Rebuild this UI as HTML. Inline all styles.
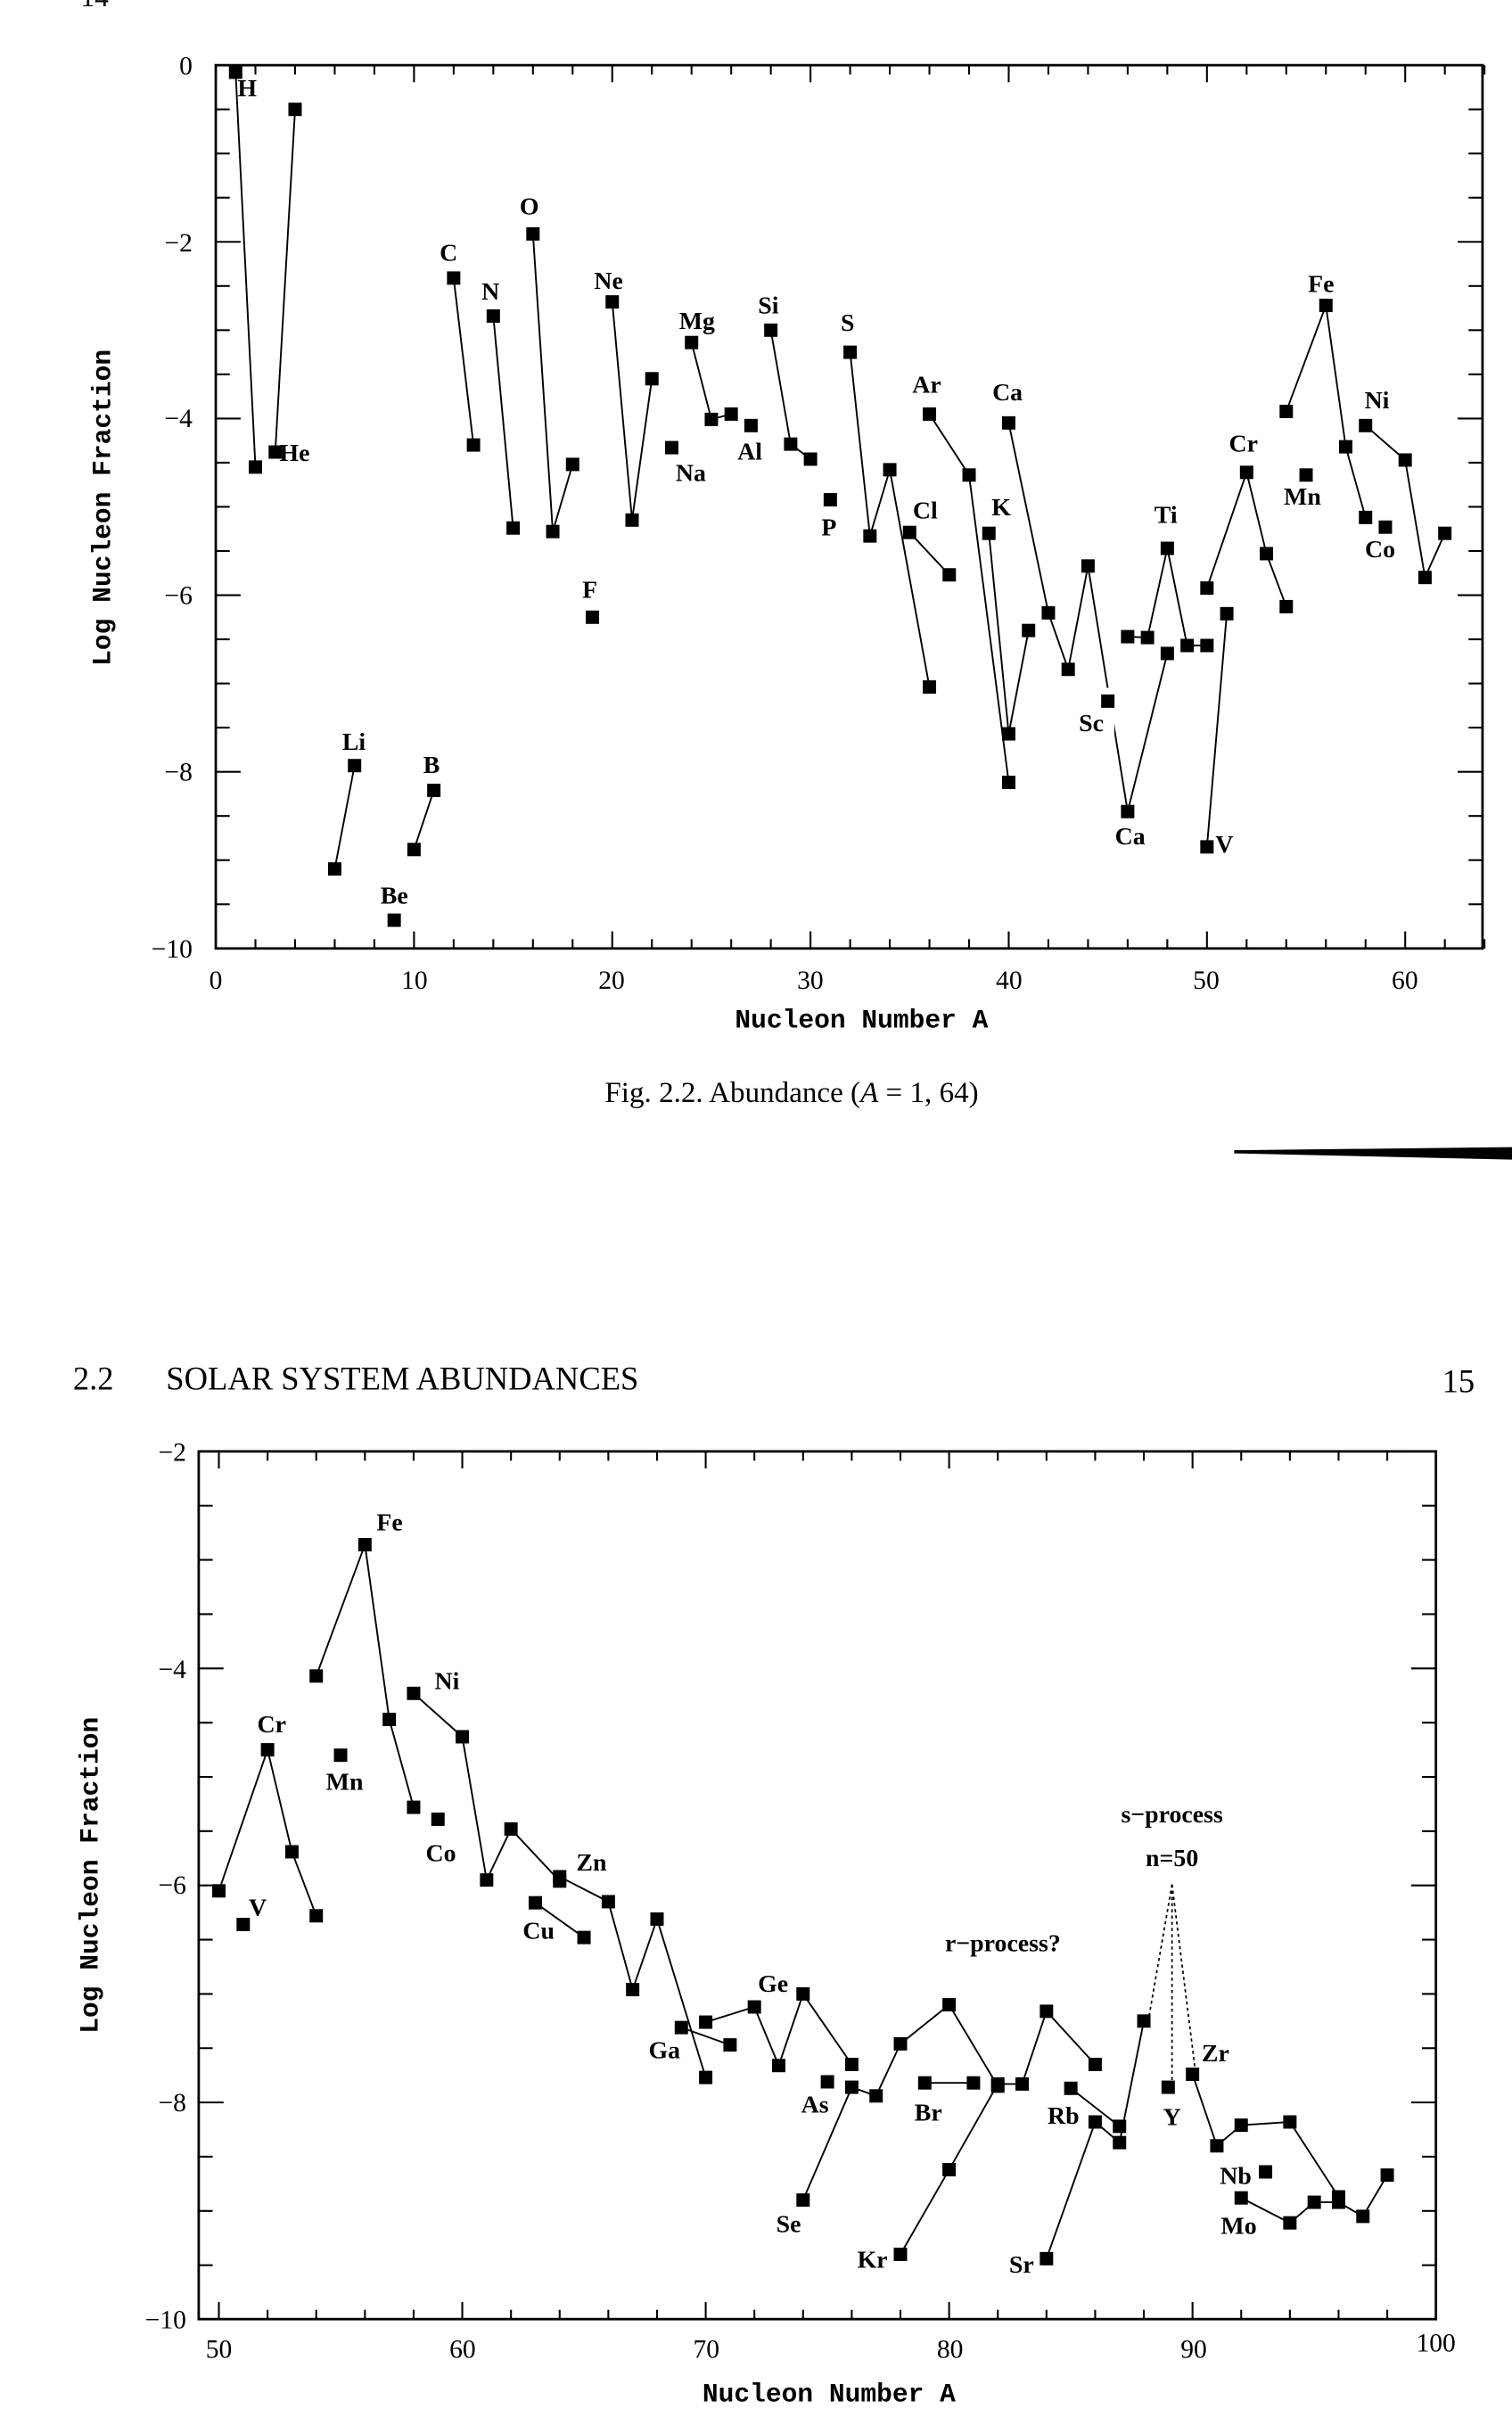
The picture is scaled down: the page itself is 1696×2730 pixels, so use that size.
<!DOCTYPE html>
<html><head><meta charset="utf-8"><style>
html,body{margin:0;padding:0;background:#fff;}
svg{display:block;}
text{font-family:"Liberation Serif",serif;fill:#000;}
.m{font-family:"Liberation Mono",monospace;font-weight:bold;}
</style></head><body>
<svg id="s" width="1696" height="2730" viewBox="0 0 974 1568" preserveAspectRatio="none" xmlns="http://www.w3.org/2000/svg">
<rect width="974" height="1568" fill="#fff"/>
<text x="52" y="4" font-size="18">14</text>
<g id="g"></g>
<g font-size="17">
<text x="124" y="48" text-anchor="end">0</text>
<text x="124" y="162" text-anchor="end">−2</text>
<text x="124" y="275" text-anchor="end">−4</text>
<text x="124" y="389" text-anchor="end">−6</text>
<text x="124" y="503" text-anchor="end">−8</text>
<text x="124" y="617" text-anchor="end">−10</text>
<text x="139" y="637" text-anchor="middle">0</text>
<text x="267" y="637" text-anchor="middle">10</text>
<text x="394" y="637" text-anchor="middle">20</text>
<text x="522" y="637" text-anchor="middle">30</text>
<text x="650" y="637" text-anchor="middle">40</text>
<text x="777" y="637" text-anchor="middle">50</text>
<text x="905" y="637" text-anchor="middle">60</text>
</g>
<text class="m" x="555" y="662" font-size="17" text-anchor="middle">Nucleon Number A</text>
<text class="m" x="0" y="0" font-size="17" text-anchor="middle" transform="translate(71,327) rotate(-90)">Log Nucleon Fraction</text>
<g font-size="16" class="m">
<text x="153" y="62">H</text><text x="180" y="297">He</text>
<text x="228" y="483" text-anchor="middle">Li</text><text x="254" y="582" text-anchor="middle">Be</text><text x="278" y="498" text-anchor="middle">B</text>
<text x="289" y="168" text-anchor="middle">C</text><text x="316" y="193" text-anchor="middle">N</text><text x="341" y="138" text-anchor="middle">O</text>
<text x="380" y="385" text-anchor="middle">F</text><text x="392" y="186" text-anchor="middle">Ne</text><text x="445" y="310" text-anchor="middle">Na</text>
<text x="449" y="212" text-anchor="middle">Mg</text><text x="483" y="296" text-anchor="middle">Al</text><text x="495" y="202" text-anchor="middle">Si</text>
<text x="546" y="213" text-anchor="middle">S</text><text x="534" y="345" text-anchor="middle">P</text><text x="597" y="253" text-anchor="middle">Ar</text>
<text x="596" y="334" text-anchor="middle">Cl</text><text x="649" y="258" text-anchor="middle">Ca</text><text x="645" y="332" text-anchor="middle">K</text>
<text x="703" y="471" text-anchor="middle">Sc</text><text x="728" y="544" text-anchor="middle">Ca</text><text x="751" y="337" text-anchor="middle">Ti</text>
<text x="801" y="291" text-anchor="middle">Cr</text><text x="839" y="325" text-anchor="middle">Mn</text><text x="851" y="188" text-anchor="middle">Fe</text>
<text x="887" y="263" text-anchor="middle">Ni</text><text x="889" y="359" text-anchor="middle">Co</text><text x="783" y="549">V</text>
</g>
<text x="510" y="710" font-size="19" text-anchor="middle">Fig. 2.2. Abundance (<tspan font-style="italic">A</tspan> = 1, 64)</text>
<polygon points="795,741 974,739 974,747 795,743" fill="#000"/>
<text x="47" y="895" font-size="21">2.2</text>
<text x="107" y="895" font-size="21">SOLAR SYSTEM ABUNDANCES</text>
<text x="950" y="897" font-size="21" text-anchor="end">15</text>
<g font-size="17">
<text x="120" y="941" text-anchor="end">−2</text>
<text x="120" y="1081" text-anchor="end">−4</text>
<text x="120" y="1220" text-anchor="end">−6</text>
<text x="120" y="1360" text-anchor="end">−8</text>
<text x="120" y="1500" text-anchor="end">−10</text>
<text x="141" y="1519" text-anchor="middle">50</text>
<text x="298" y="1519" text-anchor="middle">60</text>
<text x="455" y="1519" text-anchor="middle">70</text>
<text x="612" y="1519" text-anchor="middle">80</text>
<text x="769" y="1519" text-anchor="middle">90</text>
<text x="925" y="1515" text-anchor="middle">100</text>
</g>
<text class="m" x="534" y="1547" font-size="17" text-anchor="middle">Nucleon Number A</text>
<text class="m" x="0" y="0" font-size="17" text-anchor="middle" transform="translate(63,1208) rotate(-90)">Log Nucleon Fraction</text>
<g font-size="16" class="m">
<text x="251" y="986" text-anchor="middle">Fe</text><text x="288" y="1088" text-anchor="middle">Ni</text><text x="175" y="1116" text-anchor="middle">Cr</text>
<text x="222" y="1153" text-anchor="middle">Mn</text><text x="284" y="1199" text-anchor="middle">Co</text><text x="166" y="1234" text-anchor="middle">V</text>
<text x="381" y="1205" text-anchor="middle">Zn</text><text x="347" y="1249" text-anchor="middle">Cu</text><text x="428" y="1326" text-anchor="middle">Ga</text>
<text x="498" y="1283" text-anchor="middle">Ge</text><text x="525" y="1361" text-anchor="middle">As</text><text x="508" y="1438" text-anchor="middle">Se</text>
<text x="598" y="1366" text-anchor="middle">Br</text><text x="562" y="1461" text-anchor="middle">Kr</text><text x="685" y="1368" text-anchor="middle">Rb</text>
<text x="658" y="1464" text-anchor="middle">Sr</text><text x="755" y="1369" text-anchor="middle">Y</text><text x="783" y="1328" text-anchor="middle">Zr</text>
<text x="796" y="1407" text-anchor="middle">Nb</text><text x="798" y="1439" text-anchor="middle">Mo</text>
<text x="646" y="1257" text-anchor="middle">r−process?</text>
<text x="755" y="1174" text-anchor="middle">s−process</text>
<text x="755" y="1202" text-anchor="middle">n=50</text>
</g>
<g stroke="#000" stroke-width="1" stroke-dasharray="2,2" fill="none">
<line x1="755" y1="1214" x2="740" y2="1300"/><line x1="755" y1="1214" x2="755" y2="1345"/><line x1="755" y1="1214" x2="770" y2="1334"/>
</g>
</svg>
<script>
(function(){
var g=document.getElementById('g'),NS='http://www.w3.org/2000/svg';
function el(t,a){var e=document.createElementNS(NS,t);for(var k in a)e.setAttribute(k,a[k]);g.appendChild(e);return e;}
function ln(x1,y1,x2,y2,w){el('line',{x1:x1,y1:y1,x2:x2,y2:y2,stroke:'#000','stroke-width':w||1});}
function tx(a){return 139+a*12.77;} function ty(v){return 42-v*56.9;}
var T={l:139,r:955,t:42,b:611};
el('rect',{x:T.l,y:T.t,width:T.r-T.l,height:T.b-T.t,fill:'none',stroke:'#000','stroke-width':1.6});
var a,v,x,y,L;
for(a=0;a<=64;a+=2){x=tx(a);L=(a%10==0)?11:6;ln(x,T.b,x,T.b-L,1.2);ln(x,T.t,x,T.t+L,1.2);}
for(v=0;v>=-10;v-=0.5){y=ty(v);L=(v%2==0)?16:9;ln(T.l,y,T.l+L,y,1.2);ln(T.r,y,T.r-L,y,1.2);}
function ser(data,fx,fy,conn){var p=data.map(function(d){return [fx(d[0]),fy(d[1])];});
 if(conn&&p.length>1)el('polyline',{points:p.map(function(q){return q.join(',');}).join(' '),fill:'none',stroke:'#000','stroke-width':1.1});
 p.forEach(function(q){el('rect',{x:q[0]-4.3,y:q[1]-4.3,width:8.6,height:8.6,fill:'#000'});});}
var topS=[
[[1,-0.08],[2,-4.55]],[[3,-4.38],[4,-0.5]],[[6,-9.1],[7,-7.93]],[[9,-9.68]],[[10,-8.88],[11,-8.21]],
[[12,-2.41],[13,-4.3]],[[14,-2.84],[15,-5.24]],[[16,-1.91],[17,-5.28],[18,-4.52]],[[19,-6.25]],
[[20,-2.68],[21,-5.15],[22,-3.55]],[[23,-4.33]],[[24,-3.14],[25,-4.01],[26,-3.95]],[[27,-4.08]],
[[28,-3.0],[29,-4.29],[30,-4.46]],[[31,-4.92]],[[32,-3.25],[33,-5.33],[34,-4.58],[36,-7.04]],
[[35,-5.29],[37,-5.77]],[[36,-3.95],[38,-4.64],[40,-8.12]],[[39,-5.3],[40,-7.57],[41,-6.4]],
[[40,-4.05],[42,-6.2],[43,-6.84],[44,-5.67],[46,-8.45],[48,-6.66]],
[[46,-6.47],[47,-6.48],[48,-5.47],[49,-6.57],[50,-6.57]],[[50,-8.85],[51,-6.21]],
[[50,-5.92],[52,-4.61],[53,-5.53],[54,-6.13]],[[55,-4.64]],[[54,-3.92],[56,-2.72],[57,-4.32],[58,-5.12]],
[[59,-5.23]],[[58,-4.08],[60,-4.47],[61,-5.8],[62,-5.3]]];
topS.forEach(function(s){ser(s,tx,ty,true);});
el('rect',{x:tx(44.7),y:ty(-7.05),width:8,height:48,fill:'#fff'});
ser([[45,-7.2]],tx,ty,false);
function bx(a){return 141+(a-50)*15.68;} function by(v){return 935-(v+2)*69.9;}
var B={l:128,r:925,t:935,b:1494};
el('rect',{x:B.l,y:B.t,width:B.r-B.l,height:B.b-B.t,fill:'none',stroke:'#000','stroke-width':1.6});
for(a=50;a<=100;a+=2){x=bx(a);L=(a%10==0)?11:6;ln(x,B.b,x,B.b-L,1.2);ln(x,B.t,x,B.t+L,1.2);}
for(v=-2;v>=-10;v-=0.5){y=by(v);L=(v%2==0)?16:9;ln(B.l,y,B.l+L,y,1.2);ln(B.r,y,B.r-L,y,1.2);}
var botS=[
[[51,-6.36]],[[50,-6.05],[52,-4.75],[53,-5.69],[54,-6.28]],[[55,-4.8]],
[[54,-4.07],[56,-2.86],[57,-4.47],[58,-5.28]],[[59,-5.39]],
[[58,-4.23],[60,-4.63],[61,-5.95],[62,-5.48],[64,-5.96]],[[63,-6.16],[65,-6.48]],
[[64,-5.92],[66,-6.15],[67,-6.96],[68,-6.31],[70,-7.77]],[[69,-7.31],[71,-7.47]],
[[70,-7.26],[72,-7.12],[73,-7.66],[74,-7.0],[76,-7.65]],[[75,-7.81]],
[[74,-8.9],[76,-7.86],[77,-7.94],[78,-7.46],[80,-7.1],[82,-7.85]],[[79,-7.82],[81,-7.82]],
[[78,-9.4],[80,-8.62],[82,-7.83],[83,-7.83],[84,-7.16],[86,-7.65]],[[85,-7.87],[87,-8.22]],
[[84,-9.44],[86,-8.18],[87,-8.37],[88,-7.25]],[[89,-7.86]],
[[90,-7.74],[91,-8.4],[92,-8.21],[94,-8.18],[96,-8.87]],[[93,-8.64]],
[[92,-8.88],[94,-9.11],[95,-8.92],[96,-8.92],[97,-9.05],[98,-8.67]]];
botS.forEach(function(s){ser(s,bx,by,true);});
})();
</script>
</body></html>
